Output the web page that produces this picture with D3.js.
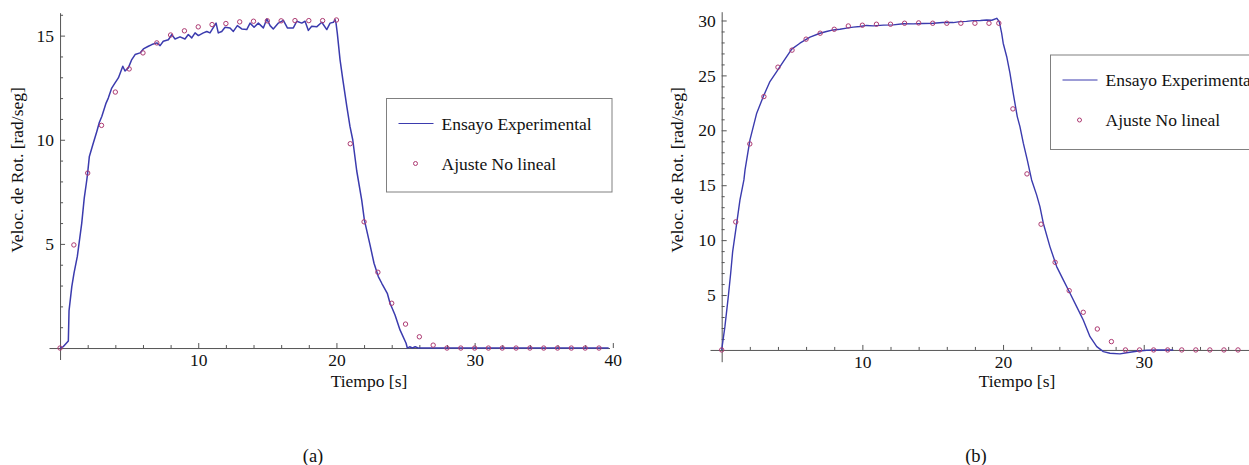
<!DOCTYPE html>
<html>
<head>
<meta charset="utf-8">
<script src="https://cdn.jsdelivr.net/npm/d3@7"></script>
<style>
  html, body { margin: 0; padding: 0; background: #fff; }
  svg { display: block; }
  text { font-family: "Liberation Serif", "DejaVu Serif", serif; fill: #111; }
</style>
</head>
<body>
<svg id="chart" width="1249" height="465"></svg>
<script>
// ---------- DATA ----------
// (a) experimental run
const leftTime = [0, 0.24, 0.6, 0.65, 0.85, 1.01, 1.25, 1.57, 1.75, 1.9, 1.98, 2.12, 2.37, 2.66, 2.84, 3.02, 3.33, 3.49, 3.74, 3.98, 4.22, 4.54, 4.7, 4.94, 5.19, 5.43, 5.79, 6.03, 6.39, 6.64, 7.0, 7.24, 7.47, 7.84, 8.08, 8.32, 8.68, 9.04, 9.28, 9.53, 9.77, 10.01, 10.37, 10.62, 10.85, 11.29, 11.45, 11.7, 11.94, 12.3, 12.54, 12.83, 13.15, 13.51, 13.75, 14.04, 14.35, 14.71, 14.96, 15.2, 15.43, 15.8, 16.16, 16.45, 16.88, 17.13, 17.49, 17.73, 17.97, 18.21, 18.57, 18.94, 19.3, 19.54, 19.78, 19.9, 19.97, 20.06, 20.26, 20.46, 20.75, 20.98, 21.18, 21.47, 21.83, 22.02, 22.43, 22.72, 23.03, 23.28, 23.68, 23.88, 24.24, 24.6, 25.04, 25.13, 25.3, 25.5, 25.7, 25.9, 39.7];
const leftSpeed = [0, 0.07, 0.34, 1.8, 2.95, 3.6, 4.4, 6.0, 7.2, 7.9, 8.3, 9.2, 9.76, 10.4, 10.83, 11.12, 11.76, 12.0, 12.48, 12.73, 12.97, 13.53, 13.3, 13.45, 13.85, 14.09, 14.17, 14.36, 14.49, 14.57, 14.65, 14.52, 14.73, 14.8, 15.05, 14.84, 14.94, 14.84, 15.05, 14.89, 15.13, 15.0, 15.13, 15.2, 15.13, 15.6, 15.13, 15.2, 15.4, 15.37, 15.2, 15.48, 15.32, 15.29, 15.6, 15.4, 15.6, 15.37, 15.8, 15.48, 15.32, 15.6, 15.73, 15.37, 15.37, 15.69, 15.6, 15.69, 15.25, 15.45, 15.42, 15.64, 15.29, 15.6, 15.64, 15.77, 15.6, 15.13, 13.85, 12.9, 11.6, 10.64, 10.0, 8.5, 7.1, 6.15, 4.95, 4.07, 3.43, 3.11, 2.63, 2.15, 1.59, 0.87, 0.23, 0, 0.06, 0, 0.06, 0, 0];
// (a) non-linear fit
const leftFitTime = [0, 1, 2, 3, 4, 5, 6, 7, 8, 9, 10, 11, 12, 13, 14, 15, 16, 17, 18, 19, 20, 21, 22, 23, 24, 25, 26, 27, 28, 29, 30, 31, 32, 33, 34, 35, 36, 37, 38, 39];
const leftFitSpeed = [0, 4.95, 8.4, 10.69, 12.29, 13.4, 14.17, 14.65, 15.03, 15.23, 15.42, 15.53, 15.58, 15.66, 15.69, 15.71, 15.71, 15.72, 15.72, 15.72, 15.75, 9.81, 6.06, 3.64, 2.15, 1.15, 0.54, 0.14, 0, 0, 0, 0, 0, 0, 0, 0, 0, 0, 0, 0];

// (b) experimental run
const rightTime = [0, 0.23, 0.47, 0.64, 0.78, 1.07, 1.3, 1.58, 1.66, 2.01, 2.49, 2.96, 3.43, 3.91, 4.38, 4.98, 5.56, 6.28, 6.99, 7.45, 7.93, 8.4, 8.88, 9.35, 9.83, 10.3, 10.77, 11.5, 12.2, 12.9, 13.62, 14.3, 15.04, 15.7, 16.46, 16.94, 17.4, 17.88, 18.4, 18.83, 19.2, 19.55, 19.73, 19.9, 20.01, 20.26, 20.49, 20.72, 21.01, 21.2, 21.44, 21.72, 22.03, 22.39, 22.62, 22.86, 23.33, 23.81, 24.28, 24.76, 25.23, 25.7, 26.18, 26.66, 27.13, 27.6, 28.31, 28.78, 29.5, 30.21, 30.92, 32.1];
const rightSpeed = [0, 2.12, 4.85, 6.98, 8.95, 11.54, 13.66, 15.48, 16.4, 19.13, 21.56, 23.07, 24.44, 25.35, 26.26, 27.39, 27.93, 28.48, 28.84, 29.0, 29.14, 29.2, 29.3, 29.4, 29.45, 29.55, 29.51, 29.58, 29.6, 29.7, 29.69, 29.72, 29.75, 29.82, 29.81, 29.9, 29.92, 29.99, 30.0, 30.05, 30.02, 30.2, 29.9, 28.84, 27.93, 26.7, 25.2, 23.38, 21.25, 20.34, 18.83, 17.3, 15.48, 14.1, 13.05, 11.54, 9.41, 7.59, 6.38, 5.16, 3.94, 2.73, 1.21, 0.3, -0.15, -0.3, -0.36, -0.25, -0.12, -0.03, 0, 0];
// (b) non-linear fit
const rightFitTime = [0, 1, 2, 3, 4, 5, 6, 7, 8, 9, 10, 11, 12, 13, 14, 15, 16, 17, 18, 19, 19.7, 20.7, 21.7, 22.7, 23.7, 24.7, 25.7, 26.7, 27.7, 28.7, 29.7, 30.7, 31.7, 32.7, 33.7, 34.7, 35.7, 36.7];
const rightFitSpeed = [0, 11.66, 18.76, 23.07, 25.75, 27.3, 28.3, 28.84, 29.2, 29.5, 29.57, 29.66, 29.66, 29.75, 29.78, 29.75, 29.75, 29.75, 29.75, 29.75, 29.75, 21.95, 16.03, 11.45, 7.98, 5.4, 3.43, 1.91, 0.76, 0, 0, 0, 0, 0, 0, 0, 0, 0];

// ticks and labels
const leftXTicks = [10, 20, 30, 40];
const leftYTicks = [5, 10, 15];
const rightXTicks = [10, 20, 30];
const rightYTicks = [5, 10, 15, 20, 25, 30];
const xTitle = "Tiempo [s]";
const yTitle = "Veloc. de Rot. [rad/seg]";
const seriesNames = ["Ensayo Experimental", "Ajuste No lineal"];
const panelLabels = ["(a)", "(b)"];

// ---------- STYLE ----------
const LINE_COLOR = "#3b3bae";
const DOT_COLOR = "#ad3a72";
const AXIS_COLOR = "#555";
const FONT = 17.5;

const svg = d3.select("#chart");

function drawPanel(cfg) {
  const g = svg.append("g");
  const x = d3.scaleLinear().domain(cfg.xDomain).range(cfg.xRange);
  const y = d3.scaleLinear().domain(cfg.yDomain).range(cfg.yRange);
  const x0 = x(0), y0 = y(0);

  // minor x ticks
  const xMinor = d3.range(2, cfg.xDomain[1], 2).filter(v => v % 10 !== 0);
  g.append("g").attr("transform", `translate(0,${y0})`)
    .call(d3.axisBottom(x).tickValues(xMinor).tickSize(-3).tickSizeOuter(0).tickFormat(""))
    .call(s => s.select(".domain").remove())
    .call(s => s.selectAll("line").attr("stroke", AXIS_COLOR));
  // major x ticks + axis line
  g.append("g").attr("transform", `translate(0,${y0})`)
    .call(d3.axisBottom(x).tickValues(cfg.xTicks).tickSize(-5).tickSizeOuter(0).tickPadding(6).tickFormat(d3.format("d")))
    .call(s => s.select(".domain").attr("stroke", AXIS_COLOR))
    .call(s => s.selectAll("line").attr("stroke", AXIS_COLOR))
    .call(s => s.selectAll("text").attr("font-size", FONT).attr("font-family", "Liberation Serif").attr("fill", "#111"));

  // minor y ticks
  const yMinor = d3.range(1, cfg.yDomain[1], 1).filter(v => v % 5 !== 0);
  g.append("g").attr("transform", `translate(${x0},0)`)
    .call(d3.axisLeft(y).tickValues(yMinor).tickSize(-3).tickSizeOuter(0).tickFormat(""))
    .call(s => s.select(".domain").remove())
    .call(s => s.selectAll("line").attr("stroke", AXIS_COLOR));
  g.append("g").attr("transform", `translate(${x0},0)`)
    .call(d3.axisLeft(y).tickValues(cfg.yTicks).tickSize(-5).tickSizeOuter(0).tickPadding(6).tickFormat(d3.format("d")))
    .call(s => s.select(".domain").attr("stroke", AXIS_COLOR))
    .call(s => s.selectAll("line").attr("stroke", AXIS_COLOR))
    .call(s => s.selectAll("text").attr("font-size", FONT).attr("font-family", "Liberation Serif").attr("fill", "#111"));

  // experimental line
  const pts = cfg.t.map((t, i) => [t, cfg.v[i]]);
  g.append("path").datum(pts)
    .attr("fill", "none").attr("stroke", LINE_COLOR).attr("stroke-width", cfg.lw)
    .attr("stroke-linejoin", "round")
    .attr("d", d3.line().x(d => x(d[0])).y(d => y(d[1])));

  // fit points
  const fit = cfg.ft.map((t, i) => [t, cfg.fv[i]]);
  g.append("g").selectAll("circle").data(fit).join("circle")
    .attr("cx", d => x(d[0])).attr("cy", d => y(d[1])).attr("r", 2.2)
    .attr("fill", "none").attr("stroke", DOT_COLOR).attr("stroke-width", 1);

  // axis titles
  g.append("text").attr("x", cfg.xTitlePos[0]).attr("y", cfg.xTitlePos[1])
    .attr("text-anchor", "middle").attr("font-size", FONT).text(xTitle);
  g.append("text")
    .attr("transform", `translate(${cfg.yTitlePos[0]},${cfg.yTitlePos[1]}) rotate(-90)`)
    .attr("text-anchor", "middle").attr("font-size", FONT).text(yTitle);

  // legend
  const L = cfg.legend;
  g.append("rect").attr("x", L.x).attr("y", L.y).attr("width", L.w).attr("height", L.h)
    .attr("fill", "#fff").attr("stroke", "#808080").attr("stroke-width", 1);
  g.append("line").attr("x1", L.x + 12).attr("x2", L.x + 47).attr("y1", L.y + 25).attr("y2", L.y + 25)
    .attr("stroke", LINE_COLOR).attr("stroke-width", 1);
  g.append("text").attr("x", L.x + 55).attr("y", L.y + 31).attr("font-size", FONT).text(seriesNames[0]);
  g.append("circle").attr("cx", L.x + 29).attr("cy", L.y + 65).attr("r", 2)
    .attr("fill", "none").attr("stroke", DOT_COLOR).attr("stroke-width", 1);
  g.append("text").attr("x", L.x + 55).attr("y", L.y + 71).attr("font-size", FONT).text(seriesNames[1]);

  // panel label
  g.append("text").attr("x", cfg.panelPos[0]).attr("y", cfg.panelPos[1])
    .attr("text-anchor", "middle").attr("font-size", 18.5).text(cfg.panel);
}

drawPanel({
  t: leftTime, v: leftSpeed, ft: leftFitTime, fv: leftFitSpeed,
  xDomain: [-0.8, 39.76], xRange: [49, 609.5],
  yDomain: [-0.55, 16.1], yRange: [359.5, 12.7],
  xTicks: leftXTicks, yTicks: leftYTicks, lw: 1.5,
  xTitlePos: [369, 387], yTitlePos: [23, 170],
  legend: { x: 386.5, y: 98.5, w: 225.5, h: 93.5 },
  panel: panelLabels[0], panelPos: [313, 462]
});

drawPanel({
  t: rightTime, v: rightSpeed, ft: rightFitTime, fv: rightFitSpeed,
  xDomain: [-0.83, 38], xRange: [710, 1256.3],
  yDomain: [-1.07, 30.8], yRange: [361.7, 11.7],
  xTicks: rightXTicks, yTicks: rightYTicks, lw: 1.4,
  xTitlePos: [1017, 387], yTitlePos: [683, 170],
  legend: { x: 1050.5, y: 55, w: 240, h: 94.5 },
  panel: panelLabels[1], panelPos: [976, 462]
});
</script>
</body>
</html>
